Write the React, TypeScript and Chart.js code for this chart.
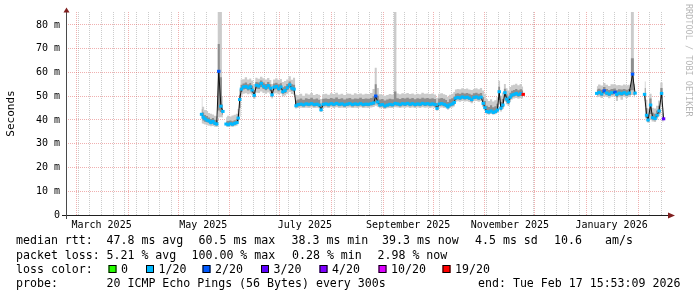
import { useEffect, useRef } from 'react';
import { Chart, registerables } from 'chart.js';

Chart.register(...registerables);

const FONT = '"DejaVu Sans Mono", monospace';

// x values: days since 1 March 2025 (00:00)
const days = [
  75.0, 76.0, 77.1, 78.3, 79.5, 80.6, 81.8, 83.0, 84.1, 85.3, 86.6, 87.8, 88.8,
  89.7, 91.0, 92.3, 93.6, 94.9, 96.2, 97.0, 97.9, 98.9, 100.2, 101.6, 103.0, 104.3, 105.3, 106.6, 107.9,
  109.3, 110.8, 112.2, 113.6, 115.0, 116.4, 117.3, 118.5, 119.9, 121.3, 122.6, 123.8, 125.1, 126.5,
  127.9, 129.2, 130.5, 131.7, 133.0, 134.6, 136.2, 137.8, 139.4, 141.0, 142.6, 144.2, 145.6, 146.7,
  148.0, 149.6, 151.2, 152.8, 154.4, 156.0, 157.6, 159.2, 160.8, 162.4, 164.0, 165.6, 167.2, 168.8,
  170.4, 172.0, 173.6, 175.2, 176.8, 178.3, 179.5, 180.7, 182.0, 183.5, 185.0, 186.5, 188.0, 189.6,
  191.2, 192.6, 194.1, 195.6, 197.1, 198.6, 200.1, 201.6, 203.1, 204.6, 206.1, 207.6, 209.1, 210.6,
  212.1, 213.6, 215.1, 216.3, 217.6, 219.1, 220.6, 221.8, 222.8, 224.0, 225.5, 226.6, 227.4, 228.7,
  230.1, 231.5, 232.9, 234.3, 235.7, 237.1, 238.5, 239.9, 241.3, 242.7, 244.0, 245.0, 246.1, 247.4,
  248.7, 250.0, 251.3, 252.5, 253.6, 254.6, 255.8, 257.0, 258.1, 259.1, 260.2, 261.2, 262.5, 263.8,
  265.1, 266.5, 268.0, 290.0,
  312.1, 313.6, 315.1, 316.6, 318.1, 319.6, 321.1, 323.1, 324.1, 325.6, 327.1, 328.6, 330.1, 331.6,
  333.6, 335.1, 338.0,
  340.8, 342.0, 342.9, 344.4, 345.6, 347.1, 348.3, 349.5, 351.0, 352.2,
];

// median round trip time (ms)
const medianRtt = [
  42.4, 41.2, 40.5, 39.9, 39.6, 38.9, 39.4, 38.6, 38.3, 60.5, 45.8, 43.6, null,
  38.3, 38.0, 38.4, 38.2, 38.6, 38.9, 40.8, 48.6, 53.0, 53.9, 54.1, 53.5, 54.0, 52.6, 50.4, 54.6,
  54.3, 55.4, 54.2, 53.6, 54.5, 53.4, 50.6, 53.8, 54.1, 53.2, 53.9, 51.9, 52.4, 53.6,
  54.8, 53.4, 53.0, 46.0, 46.5, 46.7, 46.4, 46.8, 46.6, 46.9, 46.5, 46.7, 46.3, 44.3,
  46.6, 46.8, 46.5, 46.9, 46.6, 47.0, 46.6, 46.8, 46.4, 46.7, 46.9, 46.5, 46.8, 46.6,
  46.9, 46.5, 46.7, 46.6, 46.9, 47.2, 50.1, 47.6, 46.3, 46.5, 45.9, 46.3, 46.6, 46.4,
  47.0, 46.8, 46.5, 46.9, 46.7, 47.0, 46.6, 46.9, 46.5, 46.8, 46.6, 47.0, 46.7, 46.9,
  46.6, 46.8, 46.5, 44.9, 46.7, 46.9, 46.6, 46.2, 45.5, 46.4, 46.8, 47.4, 49.2, 49.5,
  49.3, 49.7, 49.4, 49.6, 49.2, 48.6, 49.5, 49.7, 49.3, 49.6, 47.0, 45.2, 43.6, 43.3,
  43.8, 43.2, 43.5, 44.2, 51.9, 45.0, 46.3, 51.5, 48.8, 47.7, 49.6, 50.5, 50.8, 51.2,
  50.7, 51.1, 50.8, null,
  51.2, 51.6, 51.0, 52.3, 51.4, 50.9, 51.5, 51.7, 50.8, 51.3, 51.1, 51.5, 51.0, 51.4,
  59.3, 51.3, null,
  50.8, 42.0, 40.0, 46.3, 41.0, 40.6, 42.0, 43.8, 51.2, 40.5,
];

// smoke: slowest / fastest of the 20 pings and the inner quantiles (ms)
const pingMin = [
  38.6, 38.4, 38.1, 37.8, 37.6, 37.4, 37.5, 37.2, 37.0, 41.0, 41.2, 41.0, null,
  37.2, 37.0, 37.3, 37.1, 37.4, 37.6, 38.4, 41.5, 50.2, 51.0, 51.3, 50.8, 51.2, 50.6, 48.8, 51.5,
  51.4, 52.0, 51.4, 51.0, 51.6, 50.9, 49.0, 51.2, 51.3, 50.8, 51.2, 50.0, 50.3, 51.0,
  51.8, 50.9, 50.6, 44.8, 45.0, 45.2, 45.0, 45.2, 45.1, 45.3, 45.0, 45.2, 44.9, 43.4,
  45.1, 45.3, 45.0, 45.4, 45.1, 45.4, 45.1, 45.2, 45.0, 45.2, 45.3, 45.0, 45.2, 45.1,
  45.4, 45.0, 45.2, 45.1, 45.3, 45.5, 46.0, 45.6, 44.9, 45.0, 44.6, 44.9, 45.1, 45.0,
  45.4, 45.3, 45.0, 45.3, 45.2, 45.4, 45.1, 45.3, 45.0, 45.3, 45.1, 45.4, 45.2, 45.3,
  45.1, 45.3, 45.0, 43.9, 45.2, 45.3, 45.1, 44.9, 44.3, 45.0, 45.3, 45.7, 47.6, 47.9,
  47.7, 48.0, 47.8, 47.9, 47.6, 47.0, 47.9, 48.0, 47.7, 47.9, 45.5, 43.8, 42.5, 42.2,
  42.6, 42.2, 42.4, 42.9, 46.5, 43.6, 44.6, 47.8, 46.6, 45.9, 47.6, 48.6, 49.0, 49.3,
  48.9, 49.2, 49.0, null,
  49.6, 49.8, 49.3, 50.1, 49.7, 49.2, 49.8, 49.9, 48.0, 49.6, 48.5, 49.8, 49.3, 49.7,
  50.5, 49.6, null,
  45.6, 39.8, 38.8, 40.2, 39.4, 39.2, 40.2, 41.6, 46.0, 39.0,
];

const pingLow = [
  40.6, 39.8, 39.3, 39.0, 38.8, 38.2, 38.4, 37.9, 37.7, 44.0, 43.4, 42.2, null,
  37.8, 37.6, 37.9, 37.7, 38.0, 38.3, 39.5, 45.0, 51.8, 52.8, 53.0, 52.4, 52.9, 51.6, 49.6, 53.2,
  53.0, 53.9, 53.0, 52.5, 53.2, 52.3, 49.8, 52.7, 52.9, 52.1, 52.7, 51.0, 51.4, 52.5,
  53.5, 52.3, 52.0, 45.4, 45.7, 45.9, 45.7, 46.0, 45.8, 46.1, 45.7, 45.9, 45.6, 43.9,
  45.8, 46.0, 45.7, 46.1, 45.8, 46.2, 45.8, 46.0, 45.6, 45.9, 46.1, 45.7, 46.0, 45.8,
  46.1, 45.7, 45.9, 45.8, 46.1, 46.3, 47.4, 46.5, 45.6, 45.7, 45.2, 45.6, 45.8, 45.7,
  46.1, 46.0, 45.7, 46.1, 45.9, 46.2, 45.8, 46.1, 45.7, 46.0, 45.8, 46.2, 45.9, 46.1,
  45.8, 46.0, 45.7, 44.4, 45.9, 46.1, 45.8, 45.5, 44.9, 45.7, 46.0, 46.5, 48.4, 48.7,
  48.5, 48.9, 48.6, 48.8, 48.4, 47.8, 48.7, 48.9, 48.5, 48.8, 46.2, 44.5, 43.0, 42.8,
  43.2, 42.7, 43.0, 43.5, 48.4, 44.2, 45.4, 49.6, 47.6, 46.7, 48.5, 49.5, 49.9, 50.2,
  49.8, 50.1, 49.9, null,
  50.4, 50.7, 50.2, 51.1, 50.5, 50.1, 50.6, 50.8, 49.6, 50.4, 50.2, 50.6, 50.2, 50.5,
  52.5, 50.4, null,
  48.0, 40.8, 39.3, 42.5, 40.1, 39.9, 41.0, 42.6, 49.0, 39.7,
];

const pingHigh = [
  44.5, 43.2, 42.1, 41.7, 41.0, 40.4, 40.8, 40.1, 39.9, 72.0, 58.0, 46.5, null,
  39.4, 39.6, 39.8, 39.5, 39.9, 40.4, 42.5, 50.6, 54.8, 55.4, 55.8, 55.1, 55.6, 54.4, 52.6, 56.0,
  55.8, 56.6, 55.8, 55.2, 56.0, 55.0, 52.8, 55.4, 55.7, 55.0, 55.5, 53.8, 54.2, 55.2,
  56.2, 55.1, 54.8, 48.2, 48.6, 49.0, 48.5, 49.2, 48.8, 49.4, 48.7, 49.0, 48.5, 46.4,
  48.9, 49.1, 48.8, 49.3, 48.9, 49.5, 48.8, 49.2, 48.6, 49.0, 49.3, 48.7, 49.1, 48.9,
  49.4, 48.8, 49.0, 48.9, 49.3, 50.0, 55.0, 50.2, 48.6, 48.8, 48.2, 48.6, 48.9, 48.7,
  52.0, 49.2, 48.8, 49.3, 49.0, 49.4, 48.9, 49.3, 48.7, 49.2, 48.9, 49.4, 49.0, 49.3,
  48.9, 49.2, 48.8, 47.0, 49.0, 49.3, 48.9, 48.4, 47.6, 48.7, 49.2, 49.8, 51.0, 51.3,
  51.1, 51.5, 51.2, 51.4, 51.0, 50.6, 51.3, 51.5, 51.1, 51.4, 49.6, 48.0, 46.0, 45.5,
  46.2, 45.4, 45.8, 46.8, 54.0, 47.6, 48.8, 53.2, 50.8, 49.8, 51.5, 52.3, 52.6, 53.0,
  52.5, 52.9, 52.4, null,
  52.8, 53.2, 52.7, 53.9, 53.0, 52.6, 53.1, 53.3, 52.5, 52.9, 52.8, 53.1, 52.7, 53.0,
  66.0, 53.4, null,
  53.5, 45.0, 42.2, 49.0, 43.0, 42.6, 44.0, 46.0, 53.5, 42.8,
];

const pingMax = [
  49.5, 45.6, 44.2, 43.8, 42.9, 42.6, 42.3, 41.8, 41.6, 120, 120, 50.0, null,
  41.2, 41.8, 41.5, 41.9, 42.2, 42.6, 44.6, 52.8, 57.0, 57.2, 58.0, 57.1, 57.5, 56.6, 55.0, 57.8,
  57.4, 58.2, 57.6, 57.0, 57.7, 56.8, 55.2, 57.0, 57.6, 56.9, 57.3, 56.0, 56.4, 57.1,
  58.4, 56.9, 57.8, 50.6, 50.4, 51.0, 50.2, 51.2, 50.7, 51.4, 50.5, 50.9, 50.6, 48.8,
  50.8, 51.1, 50.6, 51.3, 50.9, 51.5, 50.7, 51.0, 50.5, 51.2, 51.0, 50.6, 51.3, 50.8,
  51.2, 50.7, 51.0, 50.9, 51.4, 53.0, 62.0, 53.5, 50.8, 50.6, 50.2, 50.5, 50.9, 50.7,
  120, 51.2, 50.8, 51.3, 51.0, 51.4, 50.9, 51.2, 50.7, 51.1, 50.8, 51.5, 51.0, 51.2,
  50.9, 51.2, 50.7, 49.4, 51.0, 51.3, 50.8, 50.5, 49.8, 50.6, 51.1, 51.8, 52.8, 53.1,
  52.9, 53.4, 53.0, 53.3, 52.8, 52.6, 53.1, 53.4, 52.9, 53.5, 52.4, 51.0, 48.8, 48.0,
  48.7, 47.8, 48.3, 49.6, 56.5, 50.2, 51.6, 55.2, 53.4, 52.4, 53.9, 54.6, 54.8, 55.3,
  54.6, 55.2, 54.1, null,
  54.2, 54.9, 54.5, 55.6, 54.8, 54.3, 55.0, 55.1, 54.6, 54.7, 54.5, 54.9, 54.6, 54.8,
  120, 55.2, null,
  56.2, 48.5, 44.8, 51.0, 45.2, 44.8, 46.0, 48.2, 55.8, 45.2,
];

// lost pings out of 20 for each median point
const lossCount = [
  1, 1, 1, 1, 1, 1, 1, 1, 1, 2, 1, 1, null,
  1, 1, 1, 1, 1, 1, 1, 1, 1, 1, 1, 1, 1, 1, 1, 1,
  1, 1, 1, 1, 1, 1, 1, 1, 1, 1, 1, 1, 1, 1,
  1, 1, 1, 1, 1, 1, 1, 1, 1, 1, 1, 1, 1, 1,
  1, 1, 1, 1, 1, 1, 1, 1, 1, 1, 1, 1, 1, 1,
  1, 1, 1, 1, 1, 1, 2, 1, 1, 1, 1, 1, 1, 1,
  1, 1, 1, 1, 1, 1, 1, 1, 1, 1, 1, 1, 1, 1,
  1, 1, 1, 1, 1, 1, 1, 1, 1, 1, 1, 1, 1, 1,
  1, 1, 1, 1, 1, 1, 1, 1, 1, 1, 1, 1, 1, 1,
  1, 1, 1, 1, 1, 1, 1, 1, 1, 1, 1, 1, 1, 1,
  1, 1, 19, null,
  1, 1, 1, 2, 1, 1, 1, 2, 1, 1, 1, 1, 1, 1,
  2, 1, null,
  1, 1, 1, 1, 1, 1, 1, 1, 1, 3,
];

const lossLegendLabels = ['0', '1/20', '2/20', '3/20', '4/20', '10/20', '19/20'];
const lossLegendValues = [0, 1, 2, 3, 4, 10, 19];
const lossColorOf: Record<number, string> = {
  0: '#26ff00', 1: '#00b8ff', 2: '#0059ff', 3: '#5e00ff', 4: '#7e00ff', 10: '#dd00ff', 19: '#ff0000',
};

// x axis: days since 1 Mar 2025
const monthStarts = [0, 31, 61, 92, 122, 153, 184, 214, 245, 275, 306, 337];
const monthLabelDays = [15, 76, 137, 199, 260, 321];
const monthLabels = ['March 2025', 'May 2025', 'July 2025', 'September 2025', 'November 2025', 'January 2026'];
const X_MIN = -6.34;
const X_MAX = 353.66;

// y axis (ms)
const Y_MAX = 85.47;
const yTickValues = [0, 5, 10, 15, 20, 25, 30, 35, 40, 45, 50, 55, 60, 65, 70, 75, 80];

const statRows: [number, string][][] = [
  [[16, 'median rtt:'], [106.5, '47.8 ms avg'], [198.5, '60.5 ms max'], [291.5, '38.3 ms min'], [382, '39.3 ms now'], [475, '4.5 ms sd'], [554, '10.6'], [605, 'am/s']],
  [[16, 'packet loss:'], [106.5, '5.21 % avg'], [191.5, '100.00 % max'], [292, '0.28 % min'], [377.5, '2.98 % now']],
  [[16, 'loss color:']],
  [[16, 'probe:'], [106.5, '20 ICMP Echo Pings (56 Bytes) every 300s'], [478, 'end: Tue Feb 17 15:53:09 2026']],
];
const statRowY = [241, 255.5, 269.5, 283.5];
const lossBoxX = [108.5, 146, 202.5, 261, 319.5, 378.5, 442.5];

const GRID = 'rgba(143,143,143,0.45)';
const MGRID = 'rgba(222,79,79,0.45)';
const NONE = 'rgba(0,0,0,0)';

export default function App() {
  const ref = useRef<HTMLCanvasElement>(null);

  useEffect(() => {
    document.body.style.margin = '0';
    const canvas = ref.current;
    if (!canvas) return;

    const weekLines: number[] = [];
    for (let d = 1; d < X_MAX; d += 7) weekLines.push(d);
    const weekSet = new Set(weekLines);
    const monthSet = new Set(monthStarts);
    const labelMap = new Map<number, string>();
    monthLabelDays.forEach((d, i) => labelMap.set(d, monthLabels[i]));
    const xTickValues = Array.from(new Set([...weekLines, ...monthStarts, ...monthLabelDays])).sort((a, b) => a - b);

    const pts = (arr: (number | null)[]) => days.map((d, i) => ({ x: d, y: arr[i] }));

    const decor = {
      id: 'decor',
      afterDraw(chart: any) {
        const { ctx, chartArea: a } = chart;
        ctx.save();
        // axes
        ctx.lineWidth = 1;
        ctx.strokeStyle = '#1f1f1f';
        ctx.beginPath();
        ctx.moveTo(a.left - 4, a.bottom + 0.5);
        ctx.lineTo(a.right + 3, a.bottom + 0.5);
        ctx.stroke();
        ctx.strokeStyle = '#4a4a4a';
        ctx.beginPath();
        ctx.moveTo(a.left + 0.5, a.bottom + 4);
        ctx.lineTo(a.left + 0.5, a.top);
        ctx.stroke();
        // arrows
        ctx.fillStyle = 'rgb(128,31,31)';
        ctx.beginPath();
        ctx.moveTo(a.left - 2.5, a.top + 0.5);
        ctx.lineTo(a.left + 3.5, a.top + 0.5);
        ctx.lineTo(a.left + 0.5, a.top - 4.5);
        ctx.closePath();
        ctx.fill();
        ctx.beginPath();
        ctx.moveTo(a.right + 2, a.bottom - 2.5);
        ctx.lineTo(a.right + 2, a.bottom + 3.5);
        ctx.lineTo(a.right + 9, a.bottom + 0.5);
        ctx.closePath();
        ctx.fill();
        // watermark
        ctx.save();
        ctx.translate(688, 4);
        ctx.rotate(Math.PI / 2);
        ctx.font = `8.5px ${FONT}`;
        ctx.fillStyle = 'rgba(0,0,0,0.3)';
        ctx.textAlign = 'left';
        ctx.textBaseline = 'middle';
        ctx.fillText('RRDTOOL / TOBI OETIKER', 0, 0);
        ctx.restore();
        // legend
        ctx.font = `11.6px ${FONT}`;
        ctx.fillStyle = '#000';
        ctx.textAlign = 'left';
        ctx.textBaseline = 'middle';
        statRows.forEach((row, r) => {
          row.forEach(([x, t]) => ctx.fillText(t, x, statRowY[r]));
        });
        lossLegendValues.forEach((v, i) => {
          const bx = lossBoxX[i];
          const by = 265;
          ctx.fillStyle = lossColorOf[v];
          ctx.fillRect(bx, by, 8, 8);
          ctx.strokeStyle = '#000';
          ctx.strokeRect(bx + 0.5, by + 0.5, 7, 7);
          ctx.fillStyle = '#000';
          ctx.fillText(lossLegendLabels[i], bx + 12.5, statRowY[2]);
        });
        ctx.restore();
      },
    };

    const chart = new Chart(canvas, {
      type: 'line',
      data: {
        datasets: [
          { label: 'min', data: pts(pingMin), borderWidth: 0, pointRadius: 0, stepped: 'middle', fill: false, order: 2 },
          { label: 'max', data: pts(pingMax), borderWidth: 0, pointRadius: 0, stepped: 'middle', fill: 0, backgroundColor: '#cbcbcb', order: 2 },
          { label: 'low', data: pts(pingLow), borderWidth: 0, pointRadius: 0, stepped: 'middle', fill: false, order: 1 },
          { label: 'high', data: pts(pingHigh), borderWidth: 0, pointRadius: 0, stepped: 'middle', fill: 2, backgroundColor: '#8e8e8e', order: 1 },
          {
            label: 'median',
            data: pts(medianRtt),
            borderColor: '#111111',
            borderWidth: 1,
            fill: false,
            pointStyle: 'line',
            pointRadius: 1.7,
            pointHoverRadius: 1.7,
            pointBorderWidth: 3,
            pointBorderColor: lossCount.map((l) => (l == null ? NONE : lossColorOf[l])),
            pointBackgroundColor: lossCount.map((l) => (l == null ? NONE : lossColorOf[l])),
            order: 0,
          },
        ],
      },
      options: {
        animation: false,
        responsive: false,
        devicePixelRatio: 1,
        events: [],
        spanGaps: false,
        layout: { padding: { left: 0, top: 12, right: 31, bottom: 0 } },
        plugins: { legend: { display: false }, tooltip: { enabled: false } },
        scales: {
          x: {
            type: 'linear',
            min: X_MIN,
            max: X_MAX,
            afterBuildTicks: (s: any) => {
              s.ticks = xTickValues.map((v) => ({ value: v }));
            },
            afterFit: (s: any) => {
              s.height = 82;
            },
            grid: {
              drawTicks: false,
              lineWidth: 1,
              color: (c: any) => {
                const v = c.tick ? c.tick.value : null;
                if (monthSet.has(v)) return MGRID;
                if (weekSet.has(v)) return GRID;
                return NONE;
              },
            },
            border: { display: false, dash: [1, 1] },
            ticks: {
              autoSkip: false,
              maxRotation: 0,
              minRotation: 0,
              padding: 4,
              color: '#000',
              font: { family: FONT, size: 10 },
              callback: (v: any) => labelMap.get(Number(v)) ?? '',
            },
          },
          y: {
            type: 'linear',
            min: 0,
            max: Y_MAX,
            afterBuildTicks: (s: any) => {
              s.ticks = yTickValues.map((v) => ({ value: v }));
            },
            afterFit: (s: any) => {
              s.width = 66;
            },
            grid: {
              drawTicks: false,
              lineWidth: 1,
              color: (c: any) => {
                const v = c.tick ? c.tick.value : null;
                if (v === 0) return NONE;
                return v % 10 === 0 ? MGRID : GRID;
              },
            },
            border: { display: false, dash: [1, 1] },
            ticks: {
              padding: 6,
              color: '#000',
              font: { family: FONT, size: 10 },
              callback: (v: any) => (v === 0 ? '0' : v % 10 === 0 ? `${v} m` : ''),
            },
            title: {
              display: true,
              text: 'Seconds',
              color: '#000',
              font: { family: FONT, size: 11 },
              padding: { top: 4.5, bottom: 0 },
            },
          },
        },
      },
      plugins: [decor],
    } as any);

    return () => chart.destroy();
  }, []);

  return (
    <div style={{ position: 'absolute', left: 0, top: 0, width: 697, height: 297, background: '#fff' }}>
      <canvas ref={ref} width={697} height={297} style={{ display: 'block', width: 697, height: 297 }} />
    </div>
  );
}
